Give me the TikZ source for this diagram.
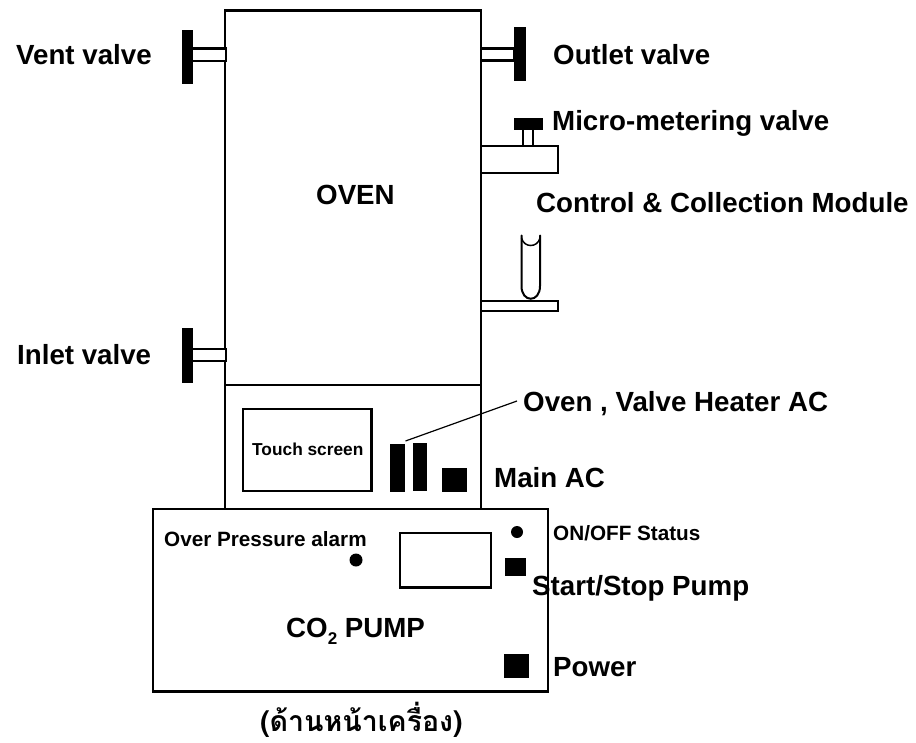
\documentclass[tikz,border=0pt]{standalone}
\usepackage{fontspec}
\setmainfont{Liberation Sans}
\newfontfamily\thaifont[Script=Thai]{Loma}
\tikzset{
  x=1pt,y=-1pt,
  box/.style={draw=black,line width=2.4pt,fill=white},
  thin box/.style={draw=black,line width=2.2pt,fill=white},
  dot/.style={circle,fill=black,draw=none,inner sep=0pt,minimum size=#1},
  lab/.style={font=\fontsize{#1}{#1}\selectfont\bfseries,inner sep=0pt,anchor=base west},
  lab/.default=27.7
}
\begin{document}
\begin{tikzpicture}
\useasboundingbox (0,0) rectangle (916,742);
% oven
\draw[box] (225,10.5) rectangle (481,509);
\draw[draw=black,line width=1.3pt] (225,385) -- (481,385);
% valve stems
\draw[thin box] (192,48.5) rectangle (226,61);
\draw[thin box] (192,349) rectangle (226,361);
\draw[thin box] (481,48.5) rectangle (514,60.5);
% valve handles
\fill (182,29.5) rectangle (192.5,84);
\fill (182,328) rectangle (192.5,382.5);
\fill (514,26.5) rectangle (526,81);
% micro-metering valve
\draw[thin box] (523,128) rectangle (533,146);
\fill (514,117.5) rectangle (542.5,129.5);
\draw[thin box] (481,146) rectangle (558,173);
% collection tube and plate
\draw[draw=black,line width=2pt,line cap=round] (521.5,235.5) -- (521.5,286) .. controls (521.5,303) and (540,303) .. (540,286) -- (540,235.5);
\draw[draw=black,line width=1.5pt] (521.5,238) .. controls (524,248) and (537.5,248) .. (540,238);
\draw[thin box] (481,301) rectangle (558,311);
% panel
\draw[box] (243,409) rectangle (371.5,491);
\fill (390,444) rectangle (404.5,492);
\fill (412.5,442.5) rectangle (427,491);
\fill (442,467.5) rectangle (466.5,492);
% pump
\draw[box] (153,509) rectangle (548,691.5);
\draw[thin box] (400,533) rectangle (491,587.5);
\node[dot=13pt] (alarm) at (356,560) {};
\node[dot=12pt] (status) at (517,532) {};
\fill (505,558) rectangle (525.5,576);
\fill (504,654) rectangle (529,678);
% labels
\node[lab] (vent) at (16,64) {Vent valve};
\node[lab] (outlet) at (553,64) {Outlet valve};
\node[lab] (micro) at (552,130) {Micro-metering valve};
\node[lab] (ctrl) at (536,212) {Control \& Collection Module};
\node[lab] (oven) at (316,204) {OVEN};
\node[lab] (inlet) at (17,364) {Inlet valve};
\node[lab] (heat) at (523,411) {Oven , Valve Heater AC};
\node[lab] (main) at (494,487) {Main AC};
\node[lab=17.3] (touch) at (252,455) {Touch screen};
\node[lab=20.7] (over) at (164,546) {Over Pressure alarm};
\node[lab=20.7] (onoff) at (553,540) {ON/OFF Status};
\node[lab] (start) at (532,595) {Start/Stop Pump};
\node[lab] (pump) at (286,637) {CO\raisebox{-7pt}{\fontsize{17}{17}\selectfont 2} PUMP};
\node[lab] (power) at (553,676) {Power};
\node[lab,font=\fontsize{28.5}{28.5}\selectfont\bfseries\thaifont] (front) at (260,731) {(ด้านหน้าเครื่อง)};
% leader
\coordinate (leadend) at (517,401);
\coordinate (leadstart) at (405.5,441);
\draw[draw=black,line width=1.2pt] (leadstart) -- (leadend);
\end{tikzpicture}
\end{document}
